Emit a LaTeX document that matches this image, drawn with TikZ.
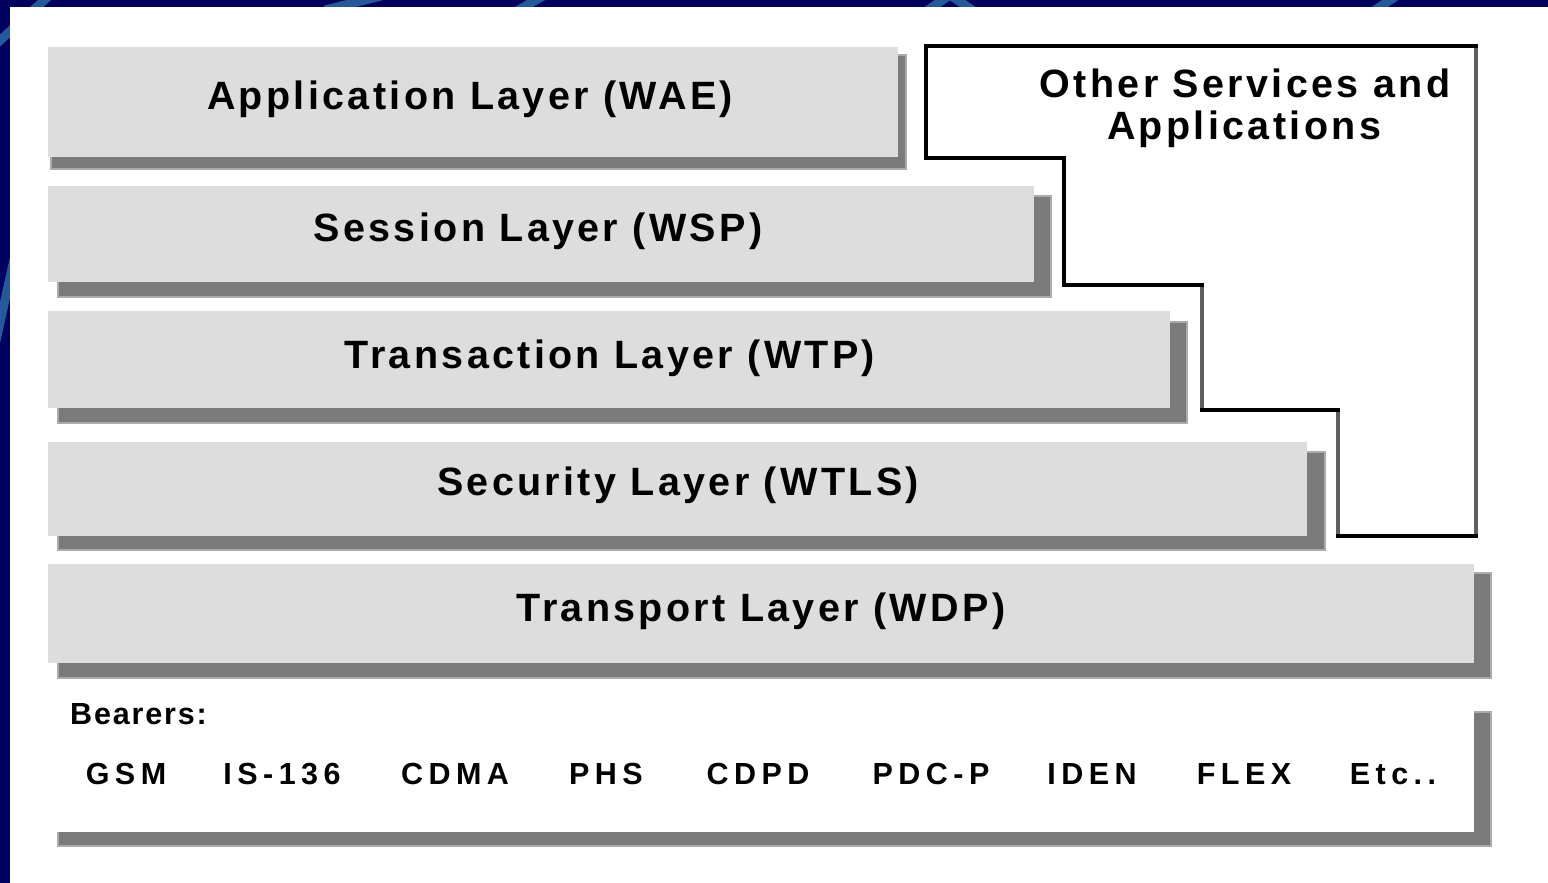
\documentclass[tikz,border=0pt]{standalone}
\usepackage{fontspec}
\setmainfont{Liberation Sans}
\newfontfamily\labfont[LetterSpace=8.5]{Liberation Sans}
\newfontfamily\bearfont[LetterSpace=18]{Liberation Sans}
\newfontfamily\bhead[LetterSpace=6]{Liberation Sans}
\definecolor{navy}{HTML}{00005E}
\definecolor{layerfill}{HTML}{DDDDDD}
\definecolor{shadowc}{HTML}{7A7A7A}
\definecolor{shadowedge}{HTML}{ABABAB}
\definecolor{swoosh}{HTML}{24599A}
\definecolor{stepgray}{HTML}{5E5E5E}
\tikzset{
  layerbox/.style={rectangle, fill=layerfill, draw=none, inner sep=0pt, outer sep=0pt, anchor=north west},
  bearbox/.style={rectangle, fill=white, draw=none, inner sep=0pt, outer sep=0pt, anchor=north west},
  shadowbox/.style={fill=shadowc, draw=shadowedge, line width=1.2pt},
  layertext/.style={anchor=base, inner sep=0pt, font=\labfont\bfseries\fontsize{39.5}{43}\selectfont},
  othertext/.style={anchor=base, inner sep=0pt, font=\labfont\bfseries\fontsize{39.5}{43}\selectfont},
  bearhead/.style={anchor=base west, inner sep=0pt, font=\bhead\bfseries\fontsize{30.5}{33}\selectfont},
  beartext/.style={anchor=base, inner sep=0pt, font=\bearfont\bfseries\fontsize{30.5}{33}\selectfont},
  outline/.style={draw=black, line width=3.5pt, fill=white, line join=miter},
  swooshline/.style={draw=swoosh, line width=9pt}
}
\begin{document}
\begin{tikzpicture}[x=1pt,y=-1pt]
\useasboundingbox (0,0) rectangle (1548,883);
% frame
\fill[navy] (0,0) rectangle (1548,883);
\begin{scope}
  \clip (0,0) rectangle (1548,7) (0,0) rectangle (10,883);
  \draw[swooshline] (-5,45) -- (50,-5);
  \draw[swooshline] (325,10) -- (385,-5);
  \draw[swooshline] (515,12) -- (545,-5);
  \draw[swooshline] (925,12) -- (950,-5) -- (975,12);
  \draw[swooshline] (1372,12) -- (1398,-5);
  \draw[swooshline] (-5,345) -- (15,255);
\end{scope}
\fill[white] (10,7) rectangle (1548,883);

% Application layer
\fill[shadowbox] (51,55) rectangle (906,169);
\node[layerbox, minimum width=850pt, minimum height=110pt] (app) at (48,47) {};
% Session layer
\fill[shadowbox] (58,196) rectangle (1051,297);
\node[layerbox, minimum width=986pt, minimum height=96pt] (ses) at (48,186) {};
% Transaction layer
\fill[shadowbox] (58,322) rectangle (1187,423);
\node[layerbox, minimum width=1122pt, minimum height=97pt] (tra) at (48,311) {};
% Security layer
\fill[shadowbox] (58,452) rectangle (1325,550);
\node[layerbox, minimum width=1259pt, minimum height=94pt] (sec) at (48,442) {};
% Transport layer
\fill[shadowbox] (58,573) rectangle (1491,678);
\node[layerbox, minimum width=1426pt, minimum height=99pt] (wdp) at (48,564) {};
% Bearers
\fill[shadowbox] (58,712) rectangle (1491,846);
\node[bearbox, minimum width=1426pt, minimum height=127pt] (bear) at (48,705) {};

% Other services outline
\path[outline] (926,46) -- (1476,46) -- (1476,536) -- (1338,536) -- (1338,410)
  -- (1202,410) -- (1202,285) -- (1064,285) -- (1064,158) -- (926,158) -- cycle;
\draw[stepgray, line width=3.5pt] (1476,48) -- (1476,534);
\draw[stepgray, line width=3.5pt] (1338,412) -- (1338,534);
\draw[stepgray, line width=3.5pt] (1202,287) -- (1202,408);

% labels
\node[layertext] (tapp) at (470,110) {Application Layer (WAE)};
\node[layertext] (tses) at (538,241) {Session Layer (WSP)};
\node[layertext] (ttra) at (610,368) {Transaction Layer (WTP)};
\node[layertext] (tsec) at (678,495) {Security Layer (WTLS)};
\node[layertext] (twdp) at (761,621) {Transport Layer (WDP)};
\node[othertext] (toth1) at (1245,98) {Other Services and};
\node[othertext] (toth2) at (1244,139) {Applications};

\node[bearhead] (tbear) at (70,724) {Bearers:};
\node[beartext] (b1) at (126,784) {GSM};
\node[beartext] (b2) at (282,784) {IS-136};
\node[beartext] (b3) at (455,784) {CDMA};
\node[beartext] (b4) at (606,784) {PHS};
\node[beartext] (b5) at (758,784) {CDPD};
\node[beartext] (b6) at (931,784) {PDC-P};
\node[beartext] (b7) at (1092,784) {IDEN};
\node[beartext] (b8) at (1244,784) {FLEX};
\node[beartext] (b9) at (1393,784) {Etc..};
\end{tikzpicture}
\end{document}
